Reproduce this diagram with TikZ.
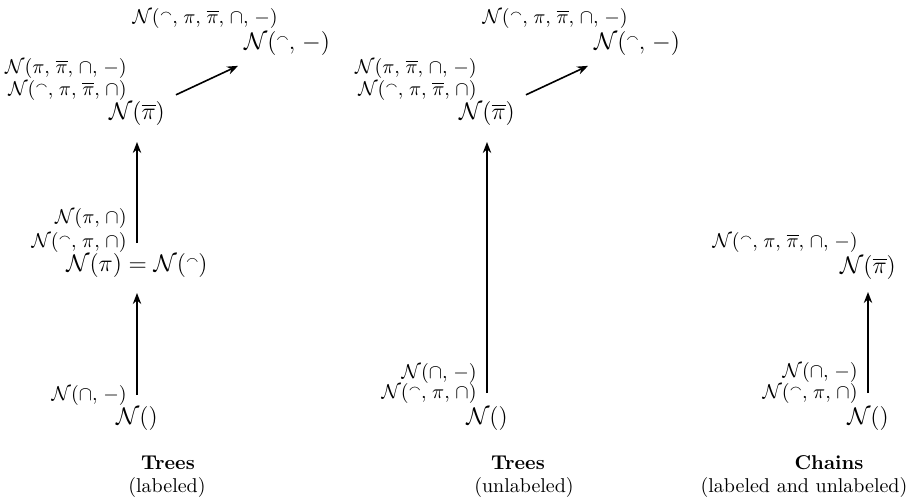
\documentclass[tikz,border=0pt]{standalone}
\usepackage{amssymb}
\usetikzlibrary{arrows.meta}
\newcommand{\arcsym}{\mathord{\raisebox{0.6ex}{$\scriptstyle\smallfrown$}}}
\newcommand{\Nn}{\mathcal{N}}
\newcommand{\cm}{,\mskip2mu}
\tikzset{
  mainnode/.style={inner sep=0pt, font=\fontsize{12}{14}\selectfont},
  labnode/.style={inner sep=0pt, anchor=east, font=\fontsize{10}{12}\selectfont},
  captitle/.style={inner sep=0pt, font=\fontsize{10}{12}\selectfont\bfseries},
  capsub/.style={inner sep=0pt, font=\fontsize{10}{12}\selectfont},
  arr/.style={line width=0.8pt, -{Stealth[length=5.5pt,width=4.2pt,inset=1.8pt]}}
}
\begin{document}
\begin{tikzpicture}[x=0.5pt,y=-0.5pt]
\useasboundingbox (0,0) rectangle (910,500);
% ---------- left: Trees (labeled)
\node[mainnode] (a0) at (137,418) {$\Nn()$};
\node[mainnode] (a1) at (137,265) {$\Nn(\pi) = \Nn(\arcsym)$};
\node[mainnode] (a2) at (137,113) {$\Nn(\overline{\pi})$};
\node[mainnode] (a3) at (287,43) {$\Nn(\arcsym\cm -)$};
\node[labnode] (la0) at (127,395) {$\Nn(\cap\cm -)$};
\node[labnode] (la1a) at (127,218) {$\Nn(\pi\cm \cap)$};
\node[labnode] (la1b) at (127,242) {$\Nn(\arcsym\cm \pi\cm \cap)$};
\node[labnode] (la2a) at (127,68) {$\Nn(\pi\cm \overline{\pi}\cm \cap\cm -)$};
\node[labnode] (la2b) at (127,90) {$\Nn(\arcsym\cm \pi\cm \overline{\pi}\cm \cap)$};
\node[labnode] (la3) at (278,18) {$\Nn(\arcsym\cm \pi\cm \overline{\pi}\cm \cap\cm -)$};
\draw[arr, shorten <=11.5pt, shorten >=14pt] (a0.center) -- (a1.center);
\draw[arr, shorten <=11pt, shorten >=14.5pt] (a1.center) -- (a2.center);
\draw[arr, shorten <=21.5pt, shorten >=27pt] (a2.center) -- (a3.center);
\node[captitle] (ca) at (168,463) {Trees};
\node[capsub] (cas) at (167,487) {(labeled)};
% ---------- middle: Trees (unlabeled)
\node[mainnode] (b0) at (487,418) {$\Nn()$};
\node[mainnode] (b1) at (487,113) {$\Nn(\overline{\pi})$};
\node[mainnode] (b2) at (637,43) {$\Nn(\arcsym\cm -)$};
\node[labnode] (lb0a) at (477,373) {$\Nn(\cap\cm -)$};
\node[labnode] (lb0b) at (477,393) {$\Nn(\arcsym\cm \pi\cm \cap)$};
\node[labnode] (lb1a) at (477,68) {$\Nn(\pi\cm \overline{\pi}\cm \cap\cm -)$};
\node[labnode] (lb1b) at (477,90) {$\Nn(\arcsym\cm \pi\cm \overline{\pi}\cm \cap)$};
\node[labnode] (lb2) at (628,18) {$\Nn(\arcsym\cm \pi\cm \overline{\pi}\cm \cap\cm -)$};
\draw[arr, shorten <=12.5pt, shorten >=14.5pt] (b0.center) -- (b1.center);
\draw[arr, shorten <=21.5pt, shorten >=27pt] (b1.center) -- (b2.center);
\node[captitle] (cb) at (518,463) {Trees};
\node[capsub] (cbs) at (524,487) {(unlabeled)};
% ---------- right: Chains
\node[mainnode] (c0) at (868,418) {$\Nn()$};
\node[mainnode] (c1) at (868,267) {$\Nn(\overline{\pi})$};
\node[labnode] (lc0a) at (858,372) {$\Nn(\cap\cm -)$};
\node[labnode] (lc0b) at (858,393) {$\Nn(\arcsym\cm \pi\cm \cap)$};
\node[labnode] (lc1) at (858,242) {$\Nn(\arcsym\cm \pi\cm \overline{\pi}\cm \cap\cm -)$};
\draw[arr, shorten <=12.5pt, shorten >=12.5pt] (c0.center) -- (c1.center);
\node[captitle] (cc) at (829,463) {Chains};
\node[capsub] (ccs) at (804,487) {(labeled and unlabeled)};
\end{tikzpicture}
\end{document}
